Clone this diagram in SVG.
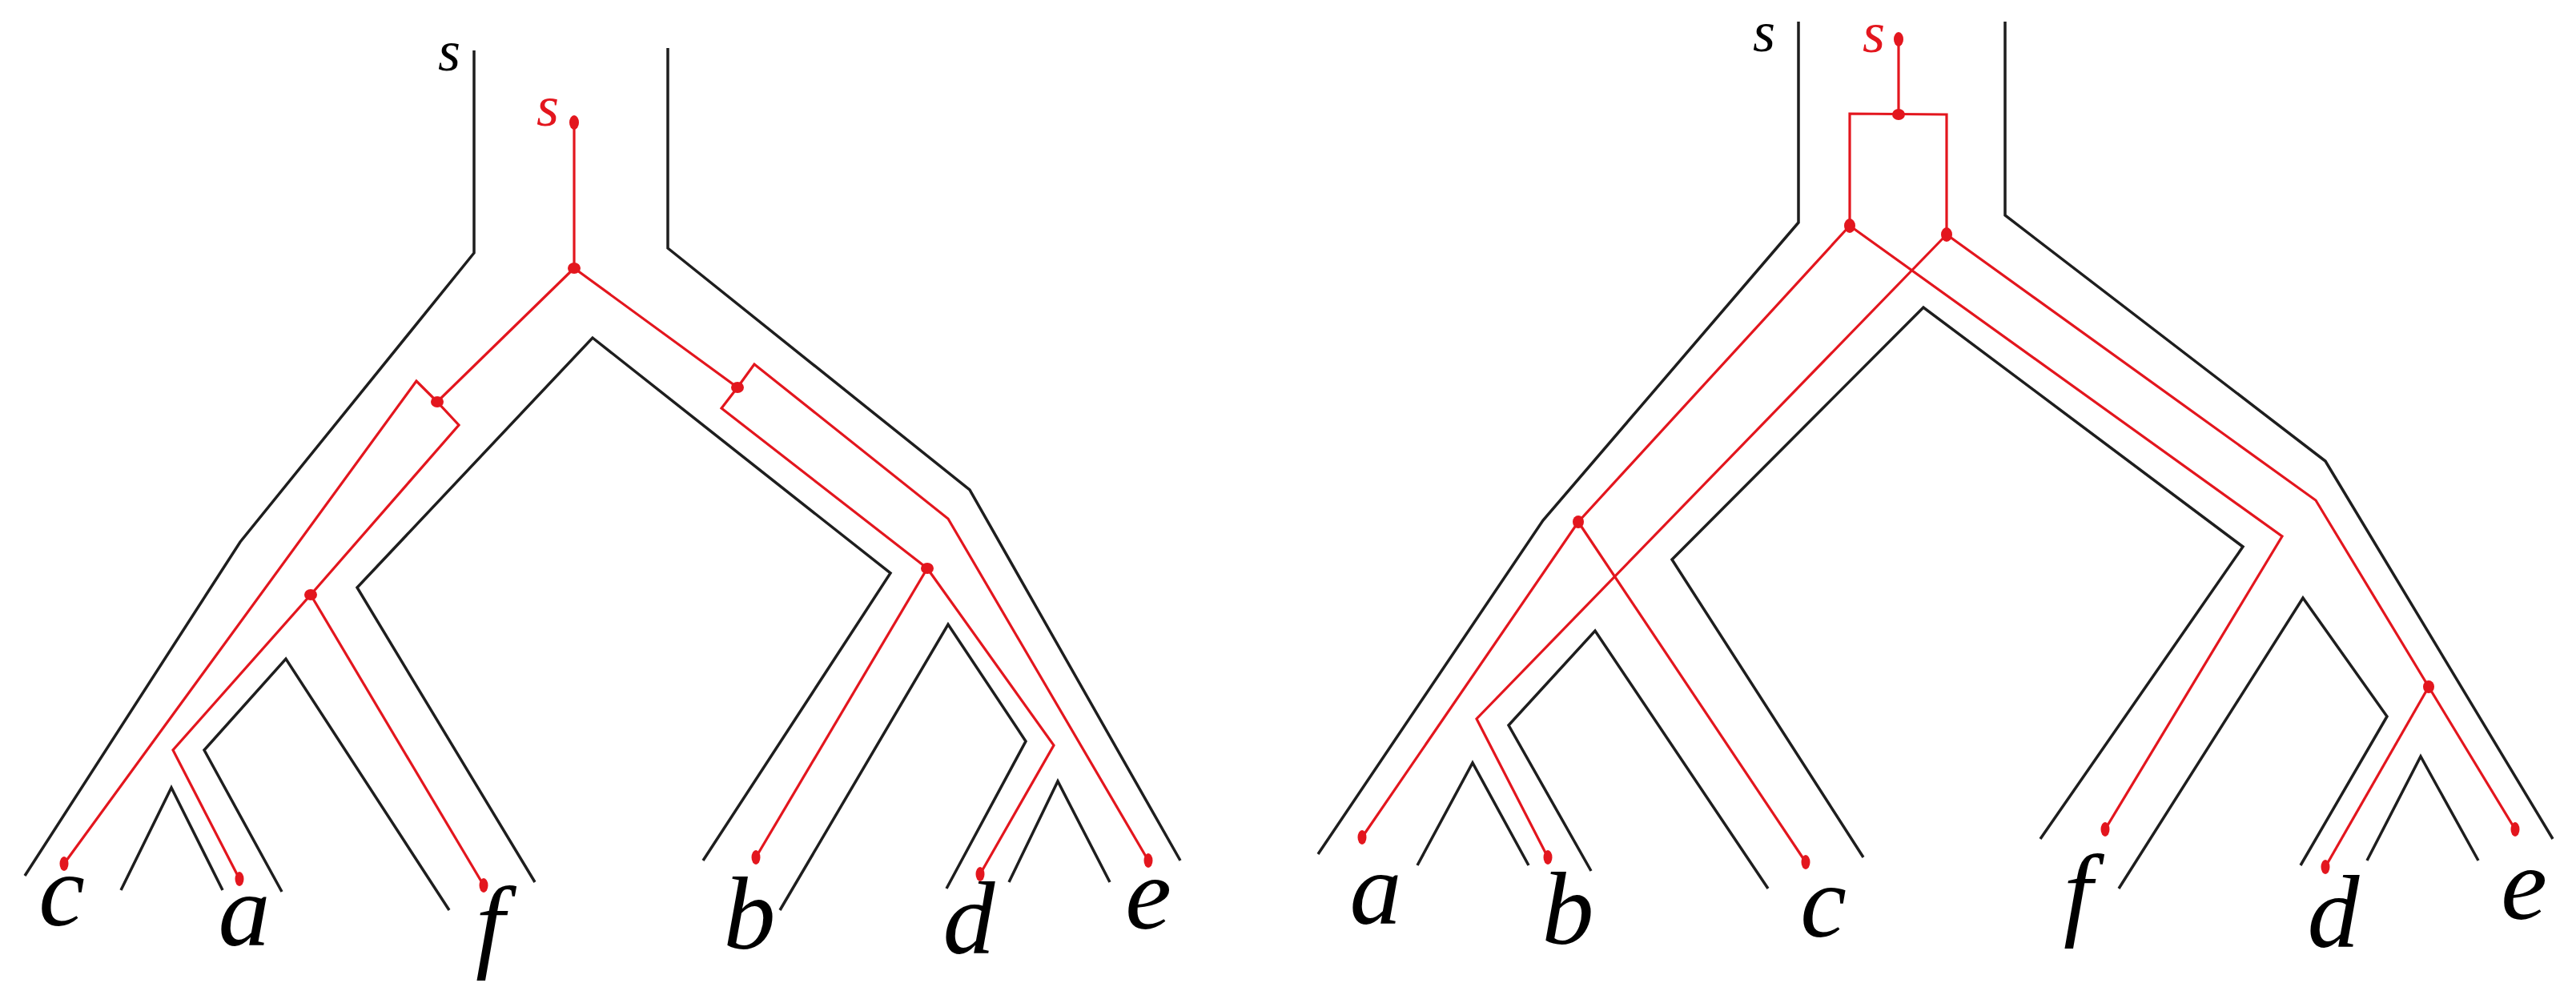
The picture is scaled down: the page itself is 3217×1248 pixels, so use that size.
<svg xmlns="http://www.w3.org/2000/svg" width="3217" height="1248" viewBox="0 0 3217 1248">
<style>
.sp{fill:none;stroke:#1e1e1e;stroke-width:3.5;stroke-linejoin:miter}
.gt{fill:none;stroke:#e3161e;stroke-width:3.2}
.dot{fill:#e3161e}
.lbl{font-family:"Liberation Serif","Times New Roman",serif;font-style:italic;font-size:130px;fill:#000;text-anchor:middle}
.sl{font-family:"Liberation Serif","Times New Roman",serif;font-style:italic;font-size:72px;text-anchor:middle}
</style>
<rect width="3217" height="1248" fill="#fff"/>
<g id="species-left">
<path class="sp" d="M592,63 L592,316 L300,677 L31,1094"/>
<path class="sp" d="M834,60 L834,310 L1211,612 L1474,1075"/>
<path class="sp" d="M668,1102 L446,734 L740,422 L1112,716 L878,1075"/>
<path class="sp" d="M352,1114 L255,937 L357,823 L561,1137"/>
<path class="sp" d="M151,1112 L214,984 L278,1112"/>
<path class="sp" d="M974,1137 L1184,780 L1281,926 L1182,1110"/>
<path class="sp" d="M1260,1102 L1321,976 L1386,1102"/>
</g>
<g id="species-right">
<path class="sp" d="M2246,27 L2246,278 L1927,650 L1646,1067"/>
<path class="sp" d="M2504,27 L2504,269 L2904,576 L3188,1048"/>
<path class="sp" d="M2327,1071 L2088,699 L2402,384 L2801,683 L2548,1048"/>
<path class="sp" d="M1987,1088 L1884,906 L1992,788 L2208,1110"/>
<path class="sp" d="M1770,1081 L1839,953 L1909,1081"/>
<path class="sp" d="M2646,1110 L2876,747 L2981,895 L2873,1081"/>
<path class="sp" d="M2956,1075 L3023,945 L3095,1075"/>
</g>
<g id="connectors">
<path class="gt" d="M717,153 L717,335"/>
<path class="gt" d="M717,335 L546,502 L520,476 L80,1079"/>
<path class="gt" d="M546,502 L573,531 L388,743"/>
<path class="gt" d="M388,743 L216,937 L299,1098"/>
<path class="gt" d="M388,743 L604,1106"/>
<path class="gt" d="M717,335 L921,484 L942,455 L1184,648 L1434,1075"/>
<path class="gt" d="M921,484 L901,510 L1158,710"/>
<path class="gt" d="M1158,710 L944,1071"/>
<path class="gt" d="M1158,710 L1316,931 L1224,1092"/>
<path class="gt" d="M2371,49 L2371,143"/>
<path class="gt" d="M2310,282 L2310,142 L2431,143 L2431,293" stroke-width="4"/>
<path class="gt" d="M2310,282 L1971,652 L1701,1046"/>
<path class="gt" d="M1971,652 L2255,1077"/>
<path class="gt" d="M2310,282 L2850,670 L2629,1036"/>
<path class="gt" d="M2431,293 L1844,898 L1933,1071"/>
<path class="gt" d="M2431,293 L2892,625 L3033,858 L3141,1036"/>
<path class="gt" d="M3033,858 L2904,1083"/>
</g>
<g id="node-left-s"><text class="sl" x="561" y="88" fill="#000">s</text></g>
<g id="node-left-gs"><text class="sl" x="684" y="157" fill="#e3161e">s</text><ellipse class="dot" cx="717" cy="153" rx="6" ry="9"/></g>
<g id="node-left-root"><ellipse class="dot" cx="717" cy="335" rx="8" ry="7"/></g>
<g id="node-left-n1"><ellipse class="dot" cx="546" cy="502" rx="8" ry="7"/></g>
<g id="node-left-n2"><ellipse class="dot" cx="921" cy="484" rx="8" ry="7"/></g>
<g id="node-left-n3"><ellipse class="dot" cx="388" cy="743" rx="8" ry="7"/></g>
<g id="node-left-n4"><ellipse class="dot" cx="1158" cy="710" rx="8" ry="7"/></g>
<g id="node-left-c"><ellipse class="dot" cx="80" cy="1079" rx="5.5" ry="9"/><text class="lbl" x="77" y="1156">c</text></g>
<g id="node-left-a"><ellipse class="dot" cx="299" cy="1098" rx="5.5" ry="9"/><text class="lbl" x="305" y="1181">a</text></g>
<g id="node-left-f"><ellipse class="dot" cx="604" cy="1106" rx="5.5" ry="9"/><text class="lbl" x="612" y="1197">f</text></g>
<g id="node-left-b"><ellipse class="dot" cx="944" cy="1071" rx="5.5" ry="9"/><text class="lbl" x="936" y="1185">b</text></g>
<g id="node-left-d"><ellipse class="dot" cx="1224" cy="1092" rx="5.5" ry="9"/><text class="lbl" x="1210" y="1191">d</text></g>
<g id="node-left-e"><ellipse class="dot" cx="1434" cy="1075" rx="5.5" ry="9"/><text class="lbl" x="1434" y="1160">e</text></g>
<g id="node-right-s"><text class="sl" x="2203" y="64" fill="#000">s</text></g>
<g id="node-right-gs"><text class="sl" x="2340" y="65" fill="#e3161e">s</text><ellipse class="dot" cx="2371" cy="49" rx="6" ry="9"/></g>
<g id="node-right-root"><ellipse class="dot" cx="2371" cy="143" rx="8" ry="7"/></g>
<g id="node-right-n1"><ellipse class="dot" cx="2310" cy="282" rx="7" ry="9"/></g>
<g id="node-right-n2"><ellipse class="dot" cx="2431" cy="293" rx="7" ry="9"/></g>
<g id="node-right-n3"><ellipse class="dot" cx="1971" cy="652" rx="7" ry="8"/></g>
<g id="node-right-n4"><ellipse class="dot" cx="3033" cy="858" rx="7" ry="8"/></g>
<g id="node-right-a"><ellipse class="dot" cx="1701" cy="1046" rx="5.5" ry="9"/><text class="lbl" x="1718" y="1154">a</text></g>
<g id="node-right-b"><ellipse class="dot" cx="1933" cy="1071" rx="5.5" ry="9"/><text class="lbl" x="1958" y="1179">b</text></g>
<g id="node-right-c"><ellipse class="dot" cx="2255" cy="1077" rx="5.5" ry="9"/><text class="lbl" x="2277" y="1170">c</text></g>
<g id="node-right-f"><ellipse class="dot" cx="2629" cy="1036" rx="5.5" ry="9"/><text class="lbl" x="2595" y="1157">f</text></g>
<g id="node-right-d"><ellipse class="dot" cx="2904" cy="1083" rx="5.5" ry="9"/><text class="lbl" x="2914" y="1183">d</text></g>
<g id="node-right-e"><ellipse class="dot" cx="3141" cy="1036" rx="5.5" ry="9"/><text class="lbl" x="3152" y="1148">e</text></g>
</svg>
